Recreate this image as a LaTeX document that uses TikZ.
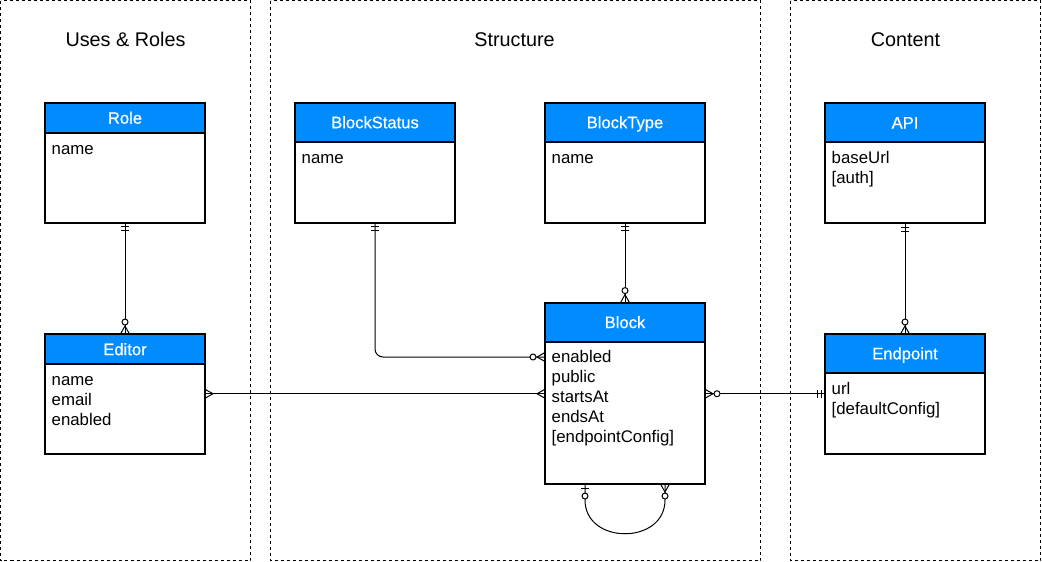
\documentclass[tikz,border=0pt]{standalone}
\usepackage{fontspec}
\setmainfont{Liberation Sans}
\newfontface\hdrfont{Liberation Sans}[FakeBold=0.6]
\usetikzlibrary{calc}
\definecolor{hdrblue}{RGB}{0,140,255}
\tikzset{
  panel/.style={draw=black, line width=1pt, dash pattern=on 3pt off 3pt},
  title/.style={font=\fontsize{19.8}{22}\selectfont, text=black, inner sep=0pt},
  body/.style={rectangle, minimum width=160pt, inner sep=0pt, outer sep=0pt, fill=white},
  hdr/.style={rectangle, minimum width=160pt, inner sep=0pt, outer sep=0pt, fill=hdrblue,
    text=white, font=\hdrfont\fontsize{16.6}{20}\selectfont, text height=12pt, text depth=0pt},
  boxline/.style={draw=black, line width=2pt},
  attr/.style={font=\fontsize{16.8}{20}\selectfont, text=black, inner sep=0pt},
  conn/.style={draw=black, line width=1pt},
  pics/mone/.style={code={\draw[conn] (4,-4)--(4,4) (8,-4)--(8,4);}},
  pics/zmany/.style={code={\draw[conn] (0,-4.5)--(8,0)--(0,4.5); \draw[conn,fill=white] (12,0) circle (3pt);}},
  pics/many/.style={code={\draw[conn] (0,-4.5)--(8,0)--(0,4.5);}},
  pics/zone/.style={code={\draw[conn] (4,-4)--(4,4); \draw[conn,fill=white] (12,0) circle (3pt);}},
}
% #1 name, #2 left, #3 top, #4 header height, #5 total height, #6 title, #7 attributes
\newcommand\erentity[7]{%
  \node[body, minimum height=#5pt, anchor=north west] (#1) at (#2,#3) {};
  \node[hdr, minimum height=#4pt, anchor=north west] (#1-h) at (#2,#3) {#6};
  \draw[boxline] (#1-h.south west) -- (#1-h.south east);
  \draw[boxline] (#1.north west) rectangle (#1.south east);
  \foreach \t [count=\i] in {#7}
    \node[attr, anchor=base west] (#1-a\i) at ([shift={(6.5,{21.3+20*(\i-1)})}]#1-h.south west) {\t};
}
\begin{document}
\begin{tikzpicture}[x=1pt,y=-1pt]
\useasboundingbox (0,0) rectangle (1042,562);
% panels
\draw[panel] (0.5,0.5) rectangle (250.5,560.5);
\draw[panel] (270.5,0.5) rectangle (760.5,560.5);
\draw[panel] (790.5,0.5) rectangle (1040.5,560.5);
\node[title, anchor=base] (tUses) at (125.5,46) {Uses \& Roles};
\node[title, anchor=base] (tStruct) at (514.5,46) {Structure};
\node[title, anchor=base] (tContent) at (905.5,46) {Content};
% entities
\erentity{Role}{45}{102.7}{30}{120}{Role}{name}
\erentity{Editor}{45}{334}{30.3}{119.5}{Editor}{name,email,enabled}
\erentity{BlockStatus}{295}{102.7}{39}{120}{BlockStatus}{name}
\erentity{BlockType}{545}{102.7}{39}{120}{BlockType}{name}
\erentity{Block}{545}{302.6}{39}{181.4}{Block}{enabled,public,startsAt,endsAt,{[endpointConfig]}}
\erentity{API}{825}{102.7}{39.6}{120.3}{API}{baseUrl,{[auth]}}
\erentity{Endpoint}{825}{334}{38.7}{119.5}{Endpoint}{url,{[defaultConfig]}}
% named points
\coordinate (bsIn) at ([yshift=-54.4pt]Block.north west);
\coordinate (edIn) at (Editor.east -| Block.west);
\coordinate (epOut) at (Endpoint.west -| Block.east);
\coordinate (lpA) at ([xshift=-40pt]Block.south);
\coordinate (lpB) at ([xshift=40pt]Block.south);
% connectors
\draw[conn] (Role.south) -- (Editor.north);
\pic[rotate=-90] at (Role.south) {mone};
\pic[rotate=90] at (Editor.north) {zmany};
\draw[conn, rounded corners=8pt] (BlockStatus.south) |- (bsIn);
\pic[rotate=-90] at (BlockStatus.south) {mone};
\pic[rotate=180] at (bsIn) {zmany};
\draw[conn] (BlockType.south) -- (Block.north);
\pic[rotate=-90] at (BlockType.south) {mone};
\pic[rotate=90] at (Block.north) {zmany};
\draw[conn] (API.south) -- (Endpoint.north);
\pic[rotate=-90] at (API.south) {mone};
\pic[rotate=90] at (Endpoint.north) {zmany};
\draw[conn] (Editor.east) -- (edIn);
\pic at (Editor.east) {many};
\pic[rotate=180] at (edIn) {many};
\draw[conn] (epOut) -- (Endpoint.west);
\pic at (epOut) {zmany};
\pic[rotate=180] at (Endpoint.west) {mone};
\draw[conn] (lpA) -- ++(0,16) .. controls +(0,45) and +(0,45) .. ([yshift=-16pt]lpB) -- (lpB);
\pic[rotate=-90] at (lpA) {zone};
\pic[rotate=-90] at (lpB) {zmany};
\end{tikzpicture}
\end{document}
